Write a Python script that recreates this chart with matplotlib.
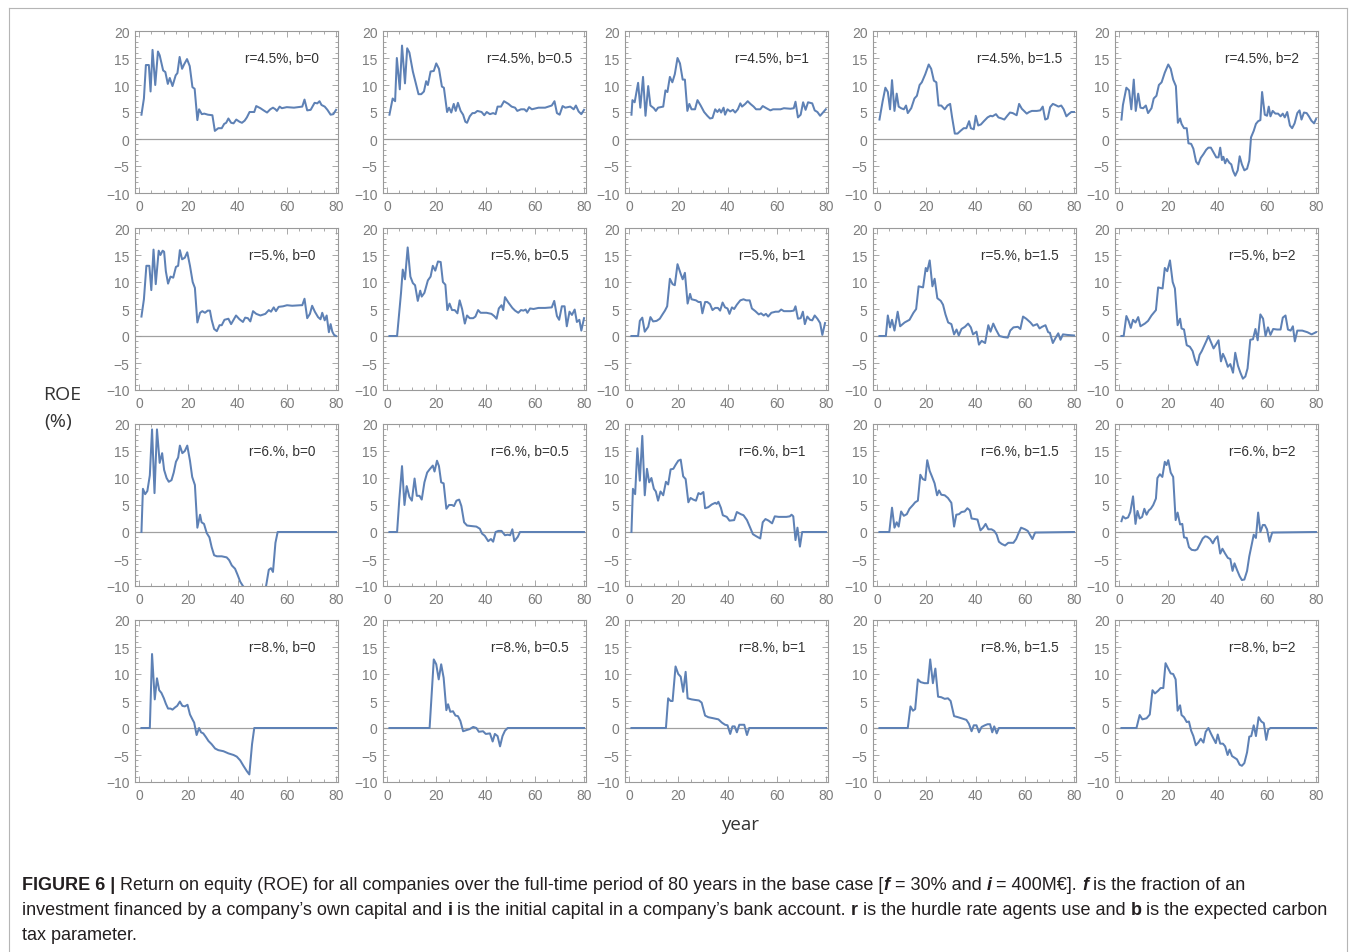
import matplotlib
matplotlib.use('Agg')
import matplotlib.pyplot as plt
from matplotlib.ticker import MultipleLocator
from matplotlib.lines import Line2D

# ---------------- data ----------------
rates = ['4.5%', '5.%', '6.%', '8.%']
b_values = ['0', '0.5', '1', '1.5', '2']
x_ticks = [0, 20, 40, 60, 80]
y_ticks = [-10, -5, 0, 5, 10, 15, 20]

# (year, ROE %) vertices of each curve
r45_b0 = [(1,4.5),(2,7.5),(2.8,13.7),(4,13.7),(4.7,8.8),(5.5,16.5),(6.6,10),(7.7,16.2),(8.4,15.5),(9.8,12.7),(10.7,12.4),(11.7,10.2),(12.5,11.3),(13.6,9.8),(14.9,11.8),(15.6,12.2),(16.5,15.2),(17.5,13),(18.3,13.8),(19.5,14.8),(20.6,13.5),(21.7,9.6),(22.6,9.3),(23.7,3.5),(24.4,5.5),(25.5,4.6),(26.5,4.7),(28,4.5),(29.8,4.4),(30.8,1.5),(32.2,2),(33.6,2),(34.6,2.8),(35.4,3),(36.3,3.8),(37.4,3),(38.4,2.9),(39.5,3.6),(40.8,3.2),(41.8,3),(42.9,3.4),(43.8,4),(44.9,5),(46.8,5),(47.6,6.1),(49.3,5.7),(50.6,5.3),(52,4.9),(53.3,5.5),(54.4,5.8),(55.4,5.5),(56,5.2),(57.1,6),(58,5.7),(60,5.9),(62.9,5.8),(66.3,6),(67.2,7.3),(68.3,5.3),(69.7,5.4),(71.3,6.7),(72.4,6.6),(73.3,7),(74.1,6.3),(75.4,6),(76.5,5.4),(77.8,4.5),(78.9,4.6),(80,5.4)]
r45_b05 = [(1,4.5),(2.3,7.5),(3.3,7),(4,15),(5.2,9.2),(6.1,17.3),(7.3,10.3),(8.2,16.8),(9.1,16),(10.5,12.5),(11.6,10.5),(12.8,8.3),(13.9,8.3),(15,8.8),(15.9,10.7),(16.6,10),(17.7,12.5),(19,12.6),(20,14),(21.1,13),(22.3,9.7),(23.1,9.5),(24.4,5),(25.2,5.8),(26.1,4.9),(27.1,6.5),(27.9,5.2),(28.8,6.7),(29.9,5.2),(30.9,4.5),(31.8,3.2),(32.5,3),(33.6,4.2),(34.7,4.8),(35.6,4.8),(36.7,5.2),(38.4,5),(39.5,4.4),(40.5,5),(41.8,4.6),(43.1,4.8),(44.1,4.6),(44.9,6),(46.3,6),(47.5,7),(49.3,6.5),(50.6,6),(52,5.8),(52.9,5.2),(54.4,5.5),(55.8,5.5),(56.7,5.1),(57.7,5.9),(58.8,5.5),(61.5,5.8),(64.2,5.8),(66.9,6.2),(68,7),(69,4.8),(70.1,4.5),(71.3,6.1),(72.4,5.8),(74.4,6),(75.8,5.5),(76.7,6.2),(77.8,5.1),(78.9,4.6),(80,5.4)]
r45_b1 = [(1,4.5),(1.4,7.2),(2.3,6.8),(3.7,10.4),(4.6,5.8),(5.7,11.5),(6.7,4.3),(7.8,9.8),(8.7,6.2),(10.1,5.7),(10.9,5.2),(11.8,5.8),(13.9,6),(14.8,9),(15.6,8.7),(16.6,11.5),(17.6,10.5),(18.6,12),(19.7,15),(20.7,14),(21.8,11),(22.7,11),(23.7,5.2),(24.5,6.5),(25.4,5.5),(26.8,5.5),(27.8,7.2),(29.1,6.2),(30.5,5),(31.8,4.3),(32.9,3.8),(33.9,3.9),(35,5.5),(35.9,5),(36.7,5.5),(37.4,4.9),(38.4,5.8),(39,4.5),(40,5.5),(41.1,5.1),(42.2,5.4),(43.1,4.9),(44.2,5.5),(45.2,6.6),(45.9,6),(47.2,6.5),(48.2,7),(49.3,6.5),(50.6,6),(51.6,5.5),(53.3,5.5),(54.3,6.1),(55.8,5.7),(57.4,5.3),(58.5,5.5),(61.5,5.5),(62.9,5.7),(65.6,5.6),(66.9,5.7),(67.6,6.9),(68.6,4),(69.7,4.5),(70.7,6.8),(71.7,5.4),(72.7,6.8),(74.4,6.6),(75.4,5.3),(76.5,5),(77.6,4.3),(79.9,5.5)]
r45_b15 = [(1,3.6),(2.3,7),(3.4,9.5),(4.4,8.7),(5.3,5.5),(6.1,10.9),(7.1,5.2),(8,8.4),(8.8,6),(9.8,5.7),(10.9,5.5),(11.8,6.2),(12.5,4.8),(13.9,5.7),(15.2,7.5),(16.2,8),(17.3,10),(18.2,10.5),(19.6,12),(21,13.8),(22,13),(23.1,10.8),(24.1,10.5),(25,6.2),(26.1,6.2),(27.5,5.5),(28.6,6.2),(29.7,6.5),(30.5,4),(31.6,1),(32.7,1),(33.9,1.5),(35.2,2),(36.3,2),(37.4,3.3),(38.1,2),(39.3,1.8),(40.1,4.3),(41.1,2.5),(42.2,2.7),(43.4,3.3),(44.9,4),(46.1,4.3),(46.9,4.2),(48.3,4.6),(49.3,4),(50.6,3.8),(51.7,3.6),(52.9,4.3),(54,4.9),(55.1,4.8),(56.7,4.4),(57.7,6.5),(58.8,5.6),(59.7,5.2),(60.8,4.7),(61.8,5),(62.9,5.2),(64.9,5.2),(66.3,5.3),(67.3,6),(68.3,3.6),(69.3,3.8),(70.3,5.9),(71.4,6.5),(72.4,6.3),(73.7,6),(74.8,6.2),(75.8,5.5),(76.9,4.2),(77.8,4.6),(78.9,5),(80,5)]
r45_b2 = [(1,3.6),(1.6,6.3),(3,9.5),(4.1,9),(5,5.5),(6,11),(6.8,5.2),(7.8,8.4),(8.7,5.8),(9.8,5.7),(10.9,6.2),(11.8,4.8),(13.2,5.7),(14.1,7.5),(15.2,8),(16.2,10),(17.3,10.5),(18.6,12.3),(20,13.8),(21,13),(22,11),(23.1,9.8),(23.9,3),(24.8,3.8),(25.4,2.8),(26.4,2),(27.5,2),(28.2,-0.8),(29.3,-0.9),(30.2,-1.8),(31.3,-4.2),(32.2,-4.7),(33.2,-3.5),(34.3,-2.8),(35.4,-2),(36.3,-1.6),(37.3,-1.6),(38.4,-2.5),(39.5,-3.4),(40.4,-3.4),(41.1,-1.6),(41.8,-3.9),(42.4,-3.3),(43.1,-4.5),(43.8,-3.7),(44.8,-4.4),(45.6,-4.7),(46.3,-5.9),(47.2,-6.8),(48.2,-5.8),(49,-3.2),(49.9,-4.7),(50.9,-5.8),(52,-5.5),(52.9,-4),(53.6,0.3),(54.7,1.5),(55.6,2.8),(56.5,3.3),(57.4,3.5),(58.1,8.7),(59.2,4.5),(60.1,4.3),(60.8,6),(61.5,4.2),(62.4,5.2),(63.5,4.7),(64.6,4.7),(65.6,4.2),(66.5,4.7),(67.3,4),(68.3,5),(69.4,2.5),(70.3,2),(71.3,2.9),(72.4,4.8),(73.3,5.3),(74.1,3.6),(75.1,4.9),(76.2,4.8),(77.1,4.2),(78.1,3.4),(79.2,2.9),(80,3.7)]

r5_b0 = [(1,3.6),(2,6.8),(3,13),(4.2,13),(5,8.5),(5.9,16),(6.8,9.6),(8,15.8),(8.7,15),(9.6,15.8),(10.2,15.6),(10.9,12),(11.8,9.7),(12.8,11),(13.9,10.8),(15,12.8),(15.9,13),(16.6,15.9),(17.5,14.2),(18.6,14.5),(19.6,15.5),(20.7,13),(21.8,10),(22.7,8.9),(23.7,2.5),(24.8,4.3),(25.7,4.6),(26.8,4.3),(27.9,4.7),(28.8,4.7),(29.5,3),(30.5,1.3),(31.6,0.9),(32.7,2),(33.6,2),(34.7,3),(36.3,3.2),(37.4,2.2),(38.4,3),(39.4,3.8),(40.8,3.1),(42.2,2.6),(43.1,3.4),(44.2,3.3),(45.2,2.7),(46.3,4.6),(47.6,4.1),(49.3,3.8),(51.3,4.1),(52.7,4.8),(53.6,4.5),(54.7,5.3),(55.6,4.6),(56.7,5.4),(58.5,5.5),(60.1,5.7),(62.2,5.6),(65.6,5.7),(66.3,5.7),(67.2,6.9),(68.3,3.3),(69.4,4.1),(70.3,5.6),(71.4,4.5),(72.7,3.5),(73.7,3.1),(74.4,4.3),(75.4,2.9),(76.2,3.8),(77.1,0.7),(77.8,2.2),(78.5,0.8),(79.2,0.2),(80,0)]
r5_b05 = [(1,0),(4.1,0),(5.7,8),(6.4,12.3),(7.3,10.5),(8.4,16.4),(9.5,11),(10.5,9.8),(11.4,9.4),(12.5,6.5),(13.5,8.4),(14.1,7.3),(15.2,8),(16.6,10.3),(17.7,11),(18.6,13),(19.6,12.1),(20.7,13.8),(21.8,13.7),(22.7,10),(23.7,9.5),(24.5,4.8),(25.4,6),(26.4,4.8),(27.5,4.8),(28.6,4.2),(29.5,6.6),(30.5,5),(31.6,2.3),(32.5,3.8),(33.6,3.3),(35,3.3),(35.9,3.6),(37,4.8),(38,4.3),(40.4,4.3),(42.4,4.1),(43.5,3.7),(44.5,3.2),(45.4,5.1),(46.5,5.7),(47.2,4.8),(47.9,7.2),(49.3,6.2),(50.9,5.2),(52,4.7),(53.3,4.3),(54.4,4.8),(55.4,4.7),(56.3,4.9),(57,4.3),(58.1,5.1),(59.5,5),(61.5,5.2),(64.2,5.2),(66.9,5.3),(67.9,6.5),(69,3.7),(69.9,3),(71,5.5),(72.1,5.5),(73,1.8),(74.1,4.5),(75.1,3.9),(76.2,4.9),(77.1,2.6),(78.1,3),(78.9,1),(80,3.3)]
r5_b1 = [(1,0),(3.7,0),(4.4,2.8),(5.4,3.4),(6.4,0.8),(7.8,1.7),(8.7,3.5),(9.8,2.7),(11.2,2.8),(12.5,3.2),(13.6,4),(14.6,4.7),(15.5,5.5),(16.6,10.6),(17.7,9.6),(18.6,9.4),(19.7,13.3),(21,11.5),(21.8,10.5),(22.7,11.7),(23.8,6),(24.8,7.8),(25.4,6.8),(27.2,6.6),(28.2,6.3),(29.1,6.3),(29.8,4.2),(30.9,6.3),(31.8,6.3),(32.9,5.9),(33.9,4.8),(35,5.2),(36.1,5.2),(37,4.7),(38,6.2),(39,5.3),(40,5.1),(40.8,4.1),(41.8,5.3),(42.7,5),(43.8,5.8),(45.2,6.6),(46.5,6.8),(47.6,6.6),(49,6.6),(49.9,5.1),(51.3,4.6),(52.7,4),(53.6,4.2),(54.7,3.8),(55.6,4.1),(56.5,3.6),(57.8,4.3),(59.5,4.5),(60.8,4.5),(61.8,4.9),(62.9,4.6),(65.6,4.6),(66.9,4.7),(67.6,5.5),(68.6,3.2),(69.7,3.3),(70.6,4.5),(71.4,2.2),(72.4,3.6),(73.5,3),(74.4,2.9),(75.4,3.8),(76.5,3.2),(77.6,2.4),(78.5,0.2),(79.6,2.4)]
r5_b15 = [(1,0),(3.6,0),(4.4,3.8),(5.3,1.6),(6.1,3),(7.1,1),(8.4,4.5),(9.4,1.8),(11.2,2.5),(13.2,3),(14.8,4.3),(15.9,5),(16.9,9.2),(18.7,9),(19.8,12.6),(20.4,12),(21.4,14),(22.5,9.2),(23.4,10.6),(24.5,7),(25.9,6.5),(26.8,5.8),(27.8,4),(28.9,2.5),(30.2,2.2),(31.3,0.3),(32.3,1.2),(33.2,0.1),(34.3,1.3),(35.7,1.7),(37,2.3),(38.1,1.6),(39,0.3),(40.4,0.8),(41.4,-1.6),(42.5,-0.9),(43.9,-1.3),(45.2,2),(46.1,0.8),(47.2,2.3),(48.3,1.2),(49.7,0),(51.4,-0.2),(53.1,-0.3),(54.1,1),(55.4,1.6),(57.2,1.7),(58.2,1.3),(59.3,3.6),(60.6,3.2),(62.3,2.5),(63.4,1.9),(65,2.2),(66,1.4),(67,1.7),(68.4,2),(69.5,0.7),(70.2,0.6),(71.4,-1.3),(72.8,-0.1),(73.6,0.5),(74.5,-0.7),(75.5,0.3),(77.2,0.2),(80,0.1)]
r5_b2 = [(1,0),(1.9,0),(3,3.7),(3.9,2.8),(4.8,1.5),(5.7,3),(6.7,2.5),(7.8,3.5),(8.7,1.8),(10.5,2.3),(11.8,2.8),(13.2,3.8),(15,4.8),(15.9,9),(17.7,8.8),(18.6,12.6),(19.6,12),(20.7,14),(21.8,10),(22.7,8.8),(23.8,2),(24.8,3.2),(25.4,1.4),(26.4,1.2),(27.5,-1.7),(28.8,-2),(29.9,-2.8),(30.9,-4.5),(31.8,-5.4),(32.7,-3.5),(33.6,-2.8),(34.6,-1.8),(35.6,-0.8),(36.3,0),(37.4,-1.2),(38.4,-2.3),(39.5,-1.5),(40.4,-0.8),(41.4,-4.7),(42.2,-3.3),(43.1,-4.2),(44.2,-5.7),(45.2,-5.2),(46.3,-6.8),(47.2,-3.1),(48.3,-5.5),(49.3,-6.8),(50.3,-7.9),(51.3,-7.5),(52.2,-6),(53.3,-0.7),(54.4,-0.6),(55.4,1.3),(56.3,-0.8),(57.4,4),(58.5,3.2),(59.5,0),(60.5,1.6),(61.5,0.2),(62.6,1.3),(64.2,1.2),(65.6,1.2),(66.5,3.4),(67.6,3.8),(68.6,1.2),(69.7,1),(70.6,1.8),(71.4,-1),(72.4,1),(74.4,1),(76.5,0.7),(78.2,0.3),(80,0.7)]

r6_b0 = [(1,0),(1.6,8),(2.5,7),(3.4,7.6),(4.4,10.5),(5.3,19),(6.3,7.2),(7.3,19),(8.4,12.8),(9.4,14.6),(10.2,11.5),(11.2,10),(12.1,9.3),(13.2,9.6),(14.1,11),(15,13),(15.9,13.8),(16.6,16),(17.6,14.6),(18.6,15),(19.6,16),(20.7,13.2),(21.6,10.2),(22.7,8.7),(23.7,0.8),(24.8,3.2),(25.4,1.8),(26.4,1.5),(27.5,-0.2),(28.6,-1),(29.5,-2.8),(30.5,-4.3),(31.6,-4.5),(33.6,-4.5),(35.6,-4.7),(36.6,-5.2),(37.7,-6.2),(39,-6.8),(40,-7.9),(41.1,-9.2),(42.2,-10),(43.4,-10.6),(47.5,-12),(51.3,-10.6),(51.6,-10),(52.7,-7),(53.6,-6.7),(54.4,-7.4),(55.4,-2),(56.3,0),(80,0)]
r6_b05 = [(1,0),(4.1,0),(5,6),(6.1,12.2),(7.1,5),(8,8.5),(9.1,6.5),(10.1,5.8),(11.2,9.9),(12.1,6.7),(13.2,6.7),(14.1,6),(15.2,9.2),(16.3,11),(17.3,11.6),(18.6,12.3),(19.3,11.2),(20.3,13.2),(21.1,12.2),(22,9.2),(23,9),(24.1,4.3),(25.2,5),(26.4,5),(27.2,4.8),(28.2,5.8),(29.3,6),(30.2,4.8),(31.3,1.8),(32.5,1.2),(34.3,1.1),(36.3,1),(37.7,0.6),(38.6,-0.3),(39.7,-0.7),(41.1,-1.7),(42.2,-1.3),(43.1,-1.8),(44.1,0),(45.2,0.2),(46.5,0.2),(47.9,-0.6),(49,-0.5),(50,-0.6),(50.9,0.5),(51.7,-1.7),(53.1,-0.9),(54,0),(80,0)]
r6_b1 = [(1,0),(1.6,8),(2.5,7),(3.4,15.5),(4.4,9.5),(5.4,17.8),(6.4,6.8),(7.3,11.7),(8.2,9.2),(9.1,10),(10.1,8),(10.9,7.5),(11.8,5.8),(12.8,7.5),(13.9,6.8),(15,9.3),(15.9,8.8),(16.9,11.6),(18,11.7),(19,12.5),(20,13.2),(21,13.4),(22,10.3),(23,9.8),(24.1,5.5),(25,6.3),(26.1,6),(27.2,5.8),(28.2,7.2),(29.1,7),(30.2,7.4),(30.9,4.4),(32.2,4.6),(33.6,5.1),(35,5.4),(35.6,5.2),(36.3,5.6),(37.3,4.5),(38.1,3.1),(39.7,2.8),(40.8,2.1),(42.7,2.2),(43.8,3.7),(45.4,3.3),(46.5,3.1),(47.9,2.2),(49.3,0.7),(50.3,-0.4),(51.7,-0.8),(53.3,-1.2),(54.3,1.8),(55.4,2.4),(56.7,2.1),(58.1,1.6),(59.2,2.9),(60.8,2.8),(63.9,2.8),(65.3,2.9),(66,3.2),(66.7,2.9),(67.6,-1.5),(68.4,0.8),(69.4,-2.7),(70.3,0),(80,0)]
r6_b15 = [(1,0),(5,0),(6.1,4.5),(7.1,0.8),(8,1.8),(8.8,1),(9.8,3.8),(10.9,3),(12.1,3.3),(13.2,4.3),(14.6,5),(15.5,5.5),(16.6,5.8),(17.6,10.6),(18.6,9.8),(19.6,9.6),(20.4,13.3),(21.4,11.3),(22.3,10.3),(23.4,9),(24.4,6.8),(25.2,7.7),(26.1,6.9),(27.5,6.8),(28.8,6.3),(30.2,5.4),(31.3,1),(32.2,3.2),(33.3,3.3),(34.3,3.7),(35.6,3.8),(36.7,4.4),(37.7,4),(38.4,2.5),(39.7,2.4),(40.8,2.3),(42,0.3),(43.1,0.8),(44.1,1.5),(45.2,0.5),(46.5,0.5),(47.6,0.2),(48.6,-0.5),(49.5,-1.8),(50.6,-2.2),(52,-2.5),(53.3,-2),(55.4,-2),(56.5,-1.3),(57.4,-0.3),(58.5,0.8),(60.1,0.5),(61.2,0.2),(62.2,-0.6),(63.1,-1.3),(64.2,-0.1),(80,0)]
r6_b2 = [(1,2),(1.6,2.9),(2.6,2.5),(3.7,2.7),(4.6,3.7),(5.7,6.6),(6.7,1.5),(7.5,3.9),(8.4,2.5),(9.4,2.8),(10.3,4.3),(11.2,3.2),(12.1,4),(12.9,4.3),(13.9,5),(15,6.2),(15.6,10),(16.6,10.7),(17.6,10.2),(18.6,13),(19.3,12.4),(20,13.3),(21,11),(22,10.2),(23,2.2),(23.8,3.6),(24.8,1.4),(25.7,1.5),(26.4,-1),(27.5,-1.1),(28.4,-2.8),(29.5,-3.3),(30.9,-3.4),(31.8,-3.2),(32.9,-2.2),(34,-1.2),(35,-0.8),(35.9,-0.9),(37,-1.3),(38.1,-2.1),(39,-1.3),(40,-0.8),(41.1,-4),(42,-3.1),(43.1,-4),(44.2,-4.8),(45.2,-5),(46.1,-7.2),(46.9,-5.8),(47.9,-7),(49,-8.2),(49.9,-8.9),(50.9,-8.8),(52,-7.2),(52.9,-4.5),(53.9,-2.3),(54.7,-0.5),(55.6,-1.1),(56.5,3.6),(57.4,0),(58.4,1.3),(59.2,1.3),(60.1,0.5),(61.1,-1.8),(62.2,-0.1),(80,0)]

r8_b0 = [(1,0),(4.4,0),(5.3,13.7),(6.4,5.3),(7.3,9.2),(8.2,7),(9.1,6.5),(10.1,5.5),(10.9,4.5),(11.8,3.6),(12.8,3.6),(13.6,3.4),(14.6,3.8),(15.5,4.1),(16.6,4.9),(17.6,4.1),(18.6,4),(19.7,4.3),(20.7,2.5),(21.8,1.5),(22.4,1),(23.4,-1.3),(24.4,0),(25.2,-0.8),(26.1,-1),(27.2,-1.7),(28.2,-2.4),(29.5,-3),(30.9,-3.8),(32.2,-4.1),(34.3,-4.3),(36.3,-4.7),(38.4,-5),(39.7,-5.3),(41.1,-6),(42.4,-7),(43.8,-8),(44.8,-8.6),(45.9,-3),(46.8,0),(80,0)]
r8_b05 = [(1,0),(17.3,0),(19,12.7),(20,11.8),(21,9),(22,11.8),(23,9.3),(24.1,3.3),(24.8,4.4),(25.7,3),(26.8,3.1),(27.8,2.3),(28.8,2.2),(29.8,1.3),(30.9,-0.6),(32.2,-0.4),(33.6,-0.2),(35,0.2),(36.3,0),(37.3,-0.7),(39,-0.6),(40.1,-1.1),(41.8,-1),(42.9,-2.5),(43.8,-1.1),(44.9,-1.5),(45.9,-3.4),(46.9,-1.5),(47.9,-0.5),(49,0),(80,0)]
r8_b1 = [(1,0),(15,0),(15.9,5.5),(16.9,5),(17.7,5),(18.9,11.4),(20,10),(21,9.5),(22,6.7),(23,10.4),(23.8,5.5),(25.4,5.3),(26.8,5.2),(28.4,5.1),(29.5,4.7),(30.9,2.3),(32.2,2),(34.3,1.8),(36.3,1.6),(37.7,1),(39,0.6),(40,0.5),(41.1,-1.1),(42,0.3),(42.9,0.3),(43.8,-0.8),(44.8,0.6),(45.9,0.6),(46.8,0.6),(47.9,-1.3),(48.8,0),(80,0)]
r8_b15 = [(1,0),(12.5,0),(13.6,4),(14.6,3.2),(15.5,3.5),(16.6,9),(17.7,8.5),(19.3,8.3),(20.7,8.3),(21.6,12.7),(22.7,8.3),(23.7,11),(24.8,5.8),(26.1,5.7),(27.5,5.4),(28.8,5.5),(29.9,5),(31.3,2.2),(32.9,2),(35,1.7),(36.3,1.5),(37.3,0.8),(38.4,-0.6),(39.3,0.5),(40.4,0.5),(41.4,-0.8),(42.5,0.2),(43.8,0.5),(44.9,0.7),(45.9,0.7),(46.8,-0.8),(47.6,0.3),(48.6,-1),(49.5,0),(80,0)]
r8_b2 = [(1,0),(7.1,0),(8.4,2.4),(9.5,1.6),(11.2,1.8),(12.5,2.5),(13.6,7),(14.6,6.4),(15.9,6.9),(16.9,7.4),(18,7.4),(18.9,12),(20,11),(21,10.1),(22,10),(23,9),(23.8,3.2),(24.8,4.2),(25.4,2.4),(26.4,2),(27.5,1.1),(28.4,1.2),(29.3,-0.5),(30.2,-1.5),(31.2,-3.2),(32.2,-2.7),(33.2,-2),(34.3,-2.7),(35.2,-0.7),(36.3,0),(37.3,-1),(38.4,-2),(39.3,-2.8),(40.1,-1.2),(41.1,-2.9),(42.2,-2.9),(43.1,-3.4),(44.1,-5),(44.9,-4),(45.9,-5.2),(46.9,-5.5),(47.9,-5.8),(49,-6.8),(49.9,-7),(50.9,-6.5),(52,-4.5),(52.9,-1.6),(53.7,-1.5),(54.7,0.5),(55.6,-1.5),(56.7,2),(57.8,1.2),(58.8,0.9),(59.8,-2.2),(60.6,-0.3),(61.5,0),(80,0)]

panels = [
    [r45_b0, r45_b05, r45_b1, r45_b15, r45_b2],
    [r5_b0, r5_b05, r5_b1, r5_b15, r5_b2],
    [r6_b0, r6_b05, r6_b1, r6_b15, r6_b2],
    [r8_b0, r8_b05, r8_b1, r8_b15, r8_b2],
]

# ---------------- layout ----------------
W, H = 1355, 953
fig = plt.figure(figsize=(W / 100, H / 100), dpi=100)
fig.patch.set_facecolor('white')

lefts = [135, 383, 625, 873, 1115]
tops = [32, 229, 425, 621]
aw, ah = 203, 162
LINE = '#5e81b5'
FRAME = '#9a9a9a'
TICKLAB = '#7d7d7d'
SANS = ['Liberation Sans', 'DejaVu Sans']

for i, r in enumerate(rates):
    for j, b in enumerate(b_values):
        ax = fig.add_axes([lefts[j] / W, 1 - (tops[i] + ah) / H, aw / W, ah / H])
        xs, ys = zip(*panels[i][j])
        ax.axhline(0, color='#a0a0a0', lw=0.9, zorder=1)
        ax.plot(xs, ys, color=LINE, lw=1.45, zorder=2, solid_joinstyle='round')
        ax.set_xlim(-1.62, 80.8)
        ax.set_ylim(-10, 20)
        ax.set_xticks(x_ticks)
        ax.set_yticks(y_ticks)
        ax.xaxis.set_minor_locator(MultipleLocator(5))
        ax.yaxis.set_minor_locator(MultipleLocator(1))
        ax.tick_params(which='both', direction='in', top=True, right=True,
                       color=FRAME, width=0.6, labelcolor=TICKLAB, labelsize=10)
        ax.tick_params(which='major', length=4, pad=4)
        ax.tick_params(which='minor', length=2)
        for lab in ax.get_xticklabels() + ax.get_yticklabels():
            lab.set_family(SANS)
        for s in ax.spines.values():
            s.set_color(FRAME)
            s.set_linewidth(0.8)
        ax.text(58, 15, f'r={r}, b={b}', ha='center', va='center',
                fontsize=9.8, color='#333333', family=SANS)

# axis titles
LAB = ['Open Sans', 'DejaVu Sans']
fig.text(62 / W, 1 - 395 / H, 'ROE', ha='center', va='center', fontsize=14, color='#333333', family=LAB)
fig.text(58 / W, 1 - 422 / H, '(%)', ha='center', va='center', fontsize=14, color='#333333', family=LAB)
fig.text(740 / W, 1 - 825 / H, 'year', ha='center', va='center', fontsize=13.5, color='#333333', family=LAB)

# frame around the figure
for (x0, y0, x1, y1) in [(8.5, 8.5, 1346.5, 8.5), (8.5, 8.5, 8.5, 960), (1346.5, 8.5, 1346.5, 960)]:
    fig.add_artist(Line2D([x0 / W, x1 / W], [1 - y0 / H, 1 - y1 / H], color='#b5b5b5', lw=0.8))

# caption with mixed styles
renderer = fig.canvas.get_renderer()
CAP_COLOR = '#231f20'
cap_lines = [
    [('FIGURE 6 |', 'bold', 'normal'),
     (' Return on equity (ROE) for all companies over the full-time period of 80 years in the base case [', 'normal', 'normal'),
     ('f', 'bold', 'italic'), (' = 30% and ', 'normal', 'normal'), ('i', 'bold', 'italic'),
     (' = 400M€]. ', 'normal', 'normal'), ('f', 'bold', 'italic'),
     (' is the fraction of an', 'normal', 'normal')],
    [('investment financed by a company’s own capital and ', 'normal', 'normal'), ('i', 'bold', 'normal'),
     (' is the initial capital in a company’s bank account. ', 'normal', 'normal'), ('r', 'bold', 'normal'),
     (' is the hurdle rate agents use and ', 'normal', 'normal'), ('b', 'bold', 'normal'),
     (' is the expected carbon', 'normal', 'normal')],
    [('tax parameter.', 'normal', 'normal')],
]


def seg_width(txt, size, weight, style):
    p1 = fig.text(0, 0, '|' + txt + '|', fontsize=size, fontweight=weight, fontstyle=style, family=SANS)
    p2 = fig.text(0, 0, '||', fontsize=size, fontweight=weight, fontstyle=style, family=SANS)
    w = p1.get_window_extent(renderer).width - p2.get_window_extent(renderer).width
    p1.remove()
    p2.remove()
    return w


# fit font size so that the second caption line spans the same width as in the reference
ref_size = 10.0
w2 = sum(seg_width(t, ref_size, wt, st) for t, wt, st in cap_lines[1])
CAP_FS = ref_size * (1334 - 22) / w2

baselines = [890, 915, 940]
for line, yb in zip(cap_lines, baselines):
    x = 22.0
    for txt, wt, st in line:
        fig.text(x / W, 1 - yb / H, txt, fontsize=CAP_FS, fontweight=wt, fontstyle=st,
                 family=SANS, color=CAP_COLOR, ha='left', va='baseline')
        x += seg_width(txt, CAP_FS, wt, st)

fig.savefig('out.png', dpi=100)
